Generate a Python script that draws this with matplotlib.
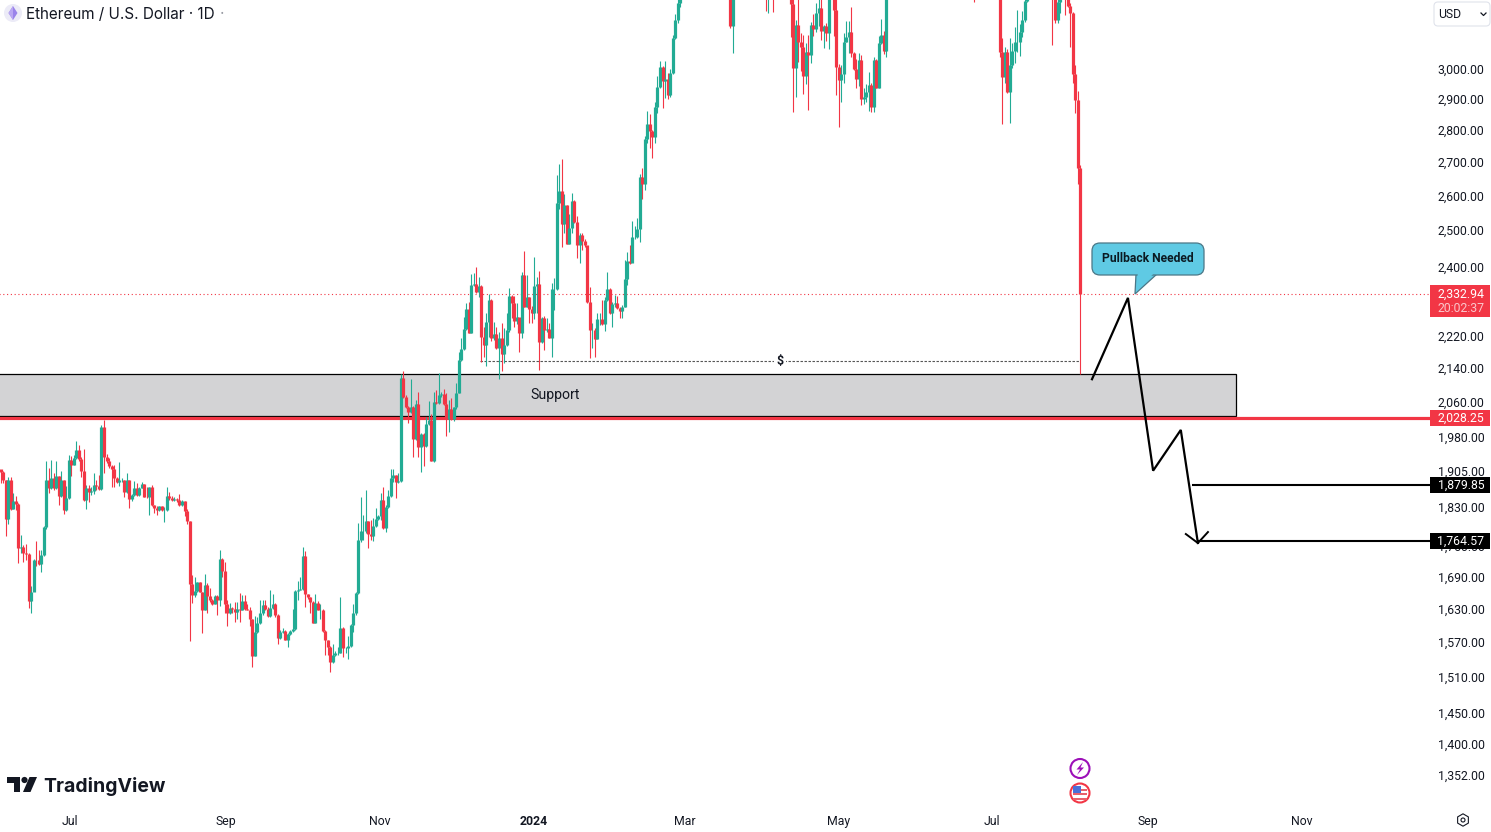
import matplotlib
matplotlib.use("Agg")
import numpy as np
import matplotlib.pyplot as plt
from matplotlib.patches import Rectangle, Polygon, Circle, FancyBboxPatch
from matplotlib.transforms import ScaledTranslation

W, H = 1491, 832
GREEN = "#22ab94"
RED = "#f23645"
INK = "#131722"

# daily candles, ETHUSD (opens follow the previous close)
first_open = 1915
closes = [
    1908,1891,1810,1891,1831,1846,1841,1752,1754,1742,
    1739,1649,1666,1728,1727,1720,1738,1793,1891,1873,
    1895,1873,1900,1857,1891,1827,1852,1934,1923,1938,
    1956,1936,1910,1848,1873,1866,1868,1880,1878,1871,
    2008,1940,1931,1921,1914,1896,1886,1892,1892,1866,
    1891,1850,1860,1873,1860,1875,1883,1856,1855,1876,
    1838,1833,1827,1836,1827,1827,1857,1852,1848,1850,
    1848,1838,1846,1826,1806,1681,1660,1668,1685,1667,
    1633,1679,1658,1651,1644,1659,1651,1730,1706,1644,
    1628,1637,1634,1629,1634,1633,1649,1634,1633,1617,
    1550,1592,1608,1627,1642,1634,1622,1636,1644,1624,
    1582,1593,1594,1579,1589,1594,1598,1668,1670,1672,
    1736,1663,1656,1647,1609,1645,1633,1633,1594,1578,
    1566,1539,1552,1555,1556,1599,1564,1564,1567,1605,
    1627,1664,1767,1785,1785,1805,1780,1775,1795,1809,
    1815,1849,1791,1834,1857,1895,1901,1887,1889,2122,
    2077,2053,2042,2053,1980,2061,1963,1992,1965,2014,
    2023,1932,2065,2063,2082,2084,2061,2026,2048,2026,
    2053,2086,2165,2192,2243,2293,2232,2356,2359,2338,
    2354,2223,2203,2260,2317,2220,2230,2195,2220,2180,
    2203,2240,2328,2309,2263,2273,2232,2383,2299,2325,
    2293,2283,2354,2359,2210,2270,2240,2243,2220,2346,
    2346,2586,2621,2525,2580,2470,2513,2592,2530,2465,
    2493,2476,2465,2312,2240,2240,2218,2268,2268,2255,
    2317,2346,2283,2306,2309,2296,2288,2299,2373,2421,
    2415,2488,2488,2510,2663,2642,2780,2827,2805,2786,
    2882,2948,3016,2969,2975,2922,2996,3116,3180,3241,
    3385,3340,3435,3420,3490,3630,3555,3820,3870,3890,
    3920,3880,4070,3985,4005,3880,3735,3530,3640,3520,
    3159,3515,3490,3335,3330,3455,3590,3590,3500,3560,
    3510,3510,3650,3505,3280,3310,3330,3320,3350,3455,
    3690,3510,3540,3505,3238,3012,3163,3102,3084,2986,
    3067,3057,3163,3148,3205,3223,3141,3159,3134,3285,
    3320,3216,3016,2972,2992,3102,3120,3138,3064,3009,
    2975,3040,2908,2915,2932,2955,2882,3040,2945,3098,
    3127,3071,3660,3790,3735,3780,3725,3750,3825,3890,
    3840,3765,3745,3760,3815,3780,3765,3810,3865,3810,
    3680,3680,3705,3665,3500,3560,3470,3475,3565,3625,
    3510,3480,3560,3515,3520,3490,3420,3350,3395,3375,
    3445,3375,3380,3435,3440,3420,3295,3067,2982,3067,
    2932,3023,3071,3102,3102,3138,3180,3250,3480,3445,
    3390,3425,3505,3520,3535,3440,3480,3335,3275,3178,
    3245,3270,3318,3280,3232,3205,2992,2905,2690,2332.94,
]
highs = [
    1911,1910,1892,1897,1897,1863,1857,1842,1778,1757,
    1760,1742,1677,1729,1765,1747,1747,1795,1932,1916,
    1935,1906,1932,1900,1911,1891,1878,1945,1943,1945,
    1976,1967,1941,1959,1880,1880,1877,1905,1891,1902,
    2013,2023,1947,1938,1923,1923,1898,1930,1895,1892,
    1906,1891,1861,1889,1885,1876,1887,1883,1876,1877,
    1880,1838,1836,1837,1836,1834,1876,1866,1857,1856,
    1852,1861,1849,1846,1829,1806,1698,1695,1686,1686,
    1667,1700,1684,1673,1654,1660,1660,1747,1731,1723,
    1652,1645,1638,1648,1648,1665,1660,1660,1644,1639,
    1617,1622,1620,1652,1651,1651,1638,1670,1662,1645,
    1625,1596,1599,1596,1590,1596,1634,1670,1687,1695,
    1754,1745,1663,1657,1649,1662,1649,1644,1634,1596,
    1578,1568,1572,1558,1566,1656,1601,1566,1585,1607,
    1644,1667,1802,1856,1818,1869,1805,1807,1811,1832,
    1817,1864,1876,1838,1870,1914,1914,1901,1907,2131,
    2139,2082,2056,2119,2056,2070,2088,1994,1994,2030,
    2068,2037,2088,2093,2134,2088,2096,2086,2070,2075,
    2053,2110,2185,2220,2273,2309,2312,2386,2389,2405,
    2378,2356,2248,2283,2333,2320,2260,2248,2235,2258,
    2245,2283,2349,2330,2328,2309,2270,2391,2449,2383,
    2325,2301,2432,2378,2394,2273,2275,2270,2258,2362,
    2375,2669,2702,2718,2612,2580,2553,2615,2595,2547,
    2499,2499,2482,2463,2351,2258,2245,2283,2283,2317,
    2325,2391,2349,2312,2330,2328,2299,2304,2424,2446,
    2465,2533,2519,2542,2672,2690,2790,2869,2859,2808,
    2898,2986,3036,3020,3036,2996,3010,3127,3202,3290,
    3490,3520,3450,3450,3530,3640,3825,3900,3940,4000,
    3955,3960,4090,4090,4085,4020,3930,3785,3680,3650,
    3545,3530,3590,3540,3430,3460,3660,3675,3665,3615,
    3585,3565,3660,3650,3510,3370,3445,3345,3385,3480,
    3730,3730,3560,3615,3550,3290,3180,3280,3134,3127,
    3098,3127,3173,3202,3241,3290,3300,3163,3170,3300,
    3355,3330,3290,3026,3023,3134,3177,3177,3227,3067,
    3043,3064,3057,2945,2958,2999,2962,3050,3043,3123,
    3184,3141,3690,3830,3815,3950,3760,3780,3860,3970,
    3930,3880,3835,3840,3830,3835,3850,3830,3890,3880,
    3840,3715,3715,3720,3680,3660,3620,3530,3590,3645,
    3650,3520,3620,3625,3555,3530,3495,3425,3430,3410,
    3490,3475,3410,3445,3525,3460,3420,3300,3116,3084,
    3077,3116,3098,3155,3216,3166,3213,3290,3500,3515,
    3520,3490,3545,3540,3560,3565,3495,3490,3340,3280,
    3260,3290,3400,3340,3300,3241,3209,3023,2935,2699,
]
lows = [
    1884,1885,1776,1799,1828,1829,1828,1721,1742,1723,
    1728,1637,1628,1683,1715,1718,1705,1735,1790,1864,
    1871,1870,1871,1838,1856,1820,1825,1850,1900,1923,
    1936,1932,1898,1847,1831,1845,1859,1861,1870,1870,
    1870,1905,1927,1916,1877,1877,1884,1878,1887,1856,
    1864,1833,1847,1858,1858,1858,1873,1854,1852,1818,
    1836,1821,1818,1825,1825,1804,1825,1849,1846,1846,
    1845,1836,1836,1815,1799,1577,1646,1656,1667,1666,
    1591,1632,1627,1648,1642,1644,1624,1640,1695,1627,
    1603,1626,1627,1611,1617,1611,1633,1633,1632,1603,
    1531,1550,1590,1607,1624,1632,1620,1620,1635,1620,
    1571,1580,1591,1578,1566,1587,1593,1596,1651,1670,
    1670,1639,1654,1627,1608,1609,1632,1617,1593,1552,
    1552,1523,1537,1550,1552,1555,1549,1556,1544,1566,
    1593,1624,1663,1764,1767,1781,1752,1767,1765,1793,
    1807,1807,1789,1783,1832,1855,1887,1853,1885,1887,
    2075,2052,2017,2039,1941,1978,1941,1908,1921,1963,
    2012,1931,1930,2061,2061,2077,2059,1987,1996,2023,
    2021,2050,2086,2163,2190,2240,2232,2232,2354,2335,
    2325,2160,2172,2151,2223,2213,2215,2192,2119,2139,
    2158,2200,2235,2270,2248,2255,2185,2220,2299,2299,
    2258,2258,2268,2283,2141,2208,2190,2235,2220,2172,
    2291,2343,2568,2460,2499,2468,2470,2499,2527,2430,
    2415,2452,2460,2309,2170,2195,2172,2218,2253,2253,
    2238,2314,2281,2248,2299,2293,2270,2270,2299,2356,
    2413,2421,2482,2485,2474,2598,2624,2767,2751,2721,
    2767,2862,2945,2879,2912,2908,2915,2992,3113,3170,
    3225,3300,3330,3400,3400,3440,3400,3500,3780,3830,
    3865,3830,3720,3830,3935,3720,3580,3500,3410,3460,
    3152,3064,3415,3260,3260,3285,3420,3555,3460,3470,
    3465,3480,3500,3415,3212,3205,3270,3210,3300,3335,
    3440,3480,3400,3480,3120,2865,2915,3033,3003,2925,
    2958,2872,3030,3123,3138,3159,3109,3081,3105,3077,
    3265,3123,2922,2818,2898,2962,3102,3064,3050,3006,
    2945,2952,2888,2892,2898,2869,2865,2865,2945,2945,
    3095,3060,3050,3640,3660,3530,3620,3700,3730,3810,
    3775,3710,3700,3720,3740,3750,3745,3730,3780,3760,
    3650,3660,3660,3580,3440,3465,3365,3360,3465,3540,
    3365,3360,3465,3445,3415,3480,3405,3245,3300,3310,
    3365,3365,3370,3375,3425,3395,3285,3050,2827,2962,
    2928,2830,3012,3030,3067,3053,3120,3173,3245,3400,
    3380,3375,3375,3480,3490,3420,3330,3300,3091,3170,
    3170,3205,3260,3198,3225,3084,2962,2862,2642,2131,
]

price_ticks = [3000, 2900, 2800, 2700, 2600, 2500, 2400, 2220, 2140, 2060,
               1980, 1905, 1830, 1750, 1690, 1630, 1570, 1510, 1450, 1400, 1352]
month_labels = ["Jul", "Sep", "Nov", "2024", "Mar", "May", "Jul", "Sep", "Nov"]
month_pos = [27.5, 89.5, 150.7, 211.7, 271.8, 332.9, 394, 456, 517.1]

last_price = 2332.94
support_top = 2131
support_bottom = 2032
red_level = 2028.25
target_1 = 1879.85
target_2 = 1764.57
liquidity_level = 2163

path_idx = [433.7, 448, 458, 469, 475.8]
path_price = [2119, 2323, 1911, 2001, 1761]
head_idx = [471, 475.8, 479.8]
head_price = [1779, 1761, 1783]

plt.rcParams["font.family"] = ["Roboto", "DejaVu Sans"]

fig = plt.figure(figsize=(W / 100, H / 100), dpi=100, facecolor="white")
ax = fig.add_axes([0, 0, 1, 1])
ax.set_yscale("log")
ax.set_xlim(-0.338, 592.3)
ax.set_ylim(1270.5, 3252.4)
for s in ax.spines.values():
    s.set_visible(False)

idx = np.arange(len(closes))
closes_a = np.array(closes, dtype=float)
opens_a = np.r_[first_open, closes_a[:-1]]
colors = np.where(closes_a >= opens_a, GREEN, RED)

# support box and levels sit under the candles
ax.add_patch(Rectangle((-5, support_bottom), 495.9, support_top - support_bottom,
                       fc="#d3d3d5", ec="black", lw=0.9, zorder=1))
ax.hlines(red_level, -5, 568, color=RED, lw=2.3, zorder=1.5)
ax.hlines(last_price, -5, 568, color=RED, lw=0.8, linestyles=(0, (1, 2.4)), zorder=1.5)
ax.hlines(liquidity_level, 190.5, 429, color="#555555", lw=0.8, linestyles=(0, (2.2, 1.4)), zorder=1.5)
ax.text(309.7, 2161, "$", ha="center", va="center", fontsize=9, fontweight="bold",
        color=INK, zorder=3, bbox=dict(fc="white", ec="none", pad=2))

ax.vlines(idx, lows, highs, colors=colors, lw=0.8, zorder=2, capstyle="butt")
ax.vlines(idx, opens_a, closes_a, colors=colors, lw=2.3, zorder=2.1, capstyle="butt")

ax.text(220.3, 2082, "Support", ha="center", va="center", fontsize=10.2, color=INK, zorder=3)

# drawn forecast
ax.plot(path_idx, path_price, color="black", lw=1.6, zorder=4, solid_joinstyle="miter")
ax.plot(head_idx, head_price, color="black", lw=1.4, zorder=4)
ax.hlines(target_1, 473.4, 568, color="black", lw=1.5, zorder=4)
ax.hlines(target_2, 475.8, 568, color="black", lw=1.5, zorder=4)

# axes
ax.set_yticks(price_ticks)
ax.set_yticklabels([f"{p:,.2f}" for p in price_ticks])
ax.yaxis.set_minor_locator(matplotlib.ticker.NullLocator())
ax.yaxis.tick_right()
ax.tick_params(axis="y", length=0, pad=-38.3, labelsize=8.8, labelcolor=INK)
ax.set_xticks(month_pos)
ax.set_xticklabels(month_labels)
ax.tick_params(axis="x", length=0, pad=-12, labelsize=8.8, labelcolor=INK)
for t, name in zip(ax.get_xticklabels(), month_labels):
    if name == "2024":
        t.set_fontweight("bold")
# price labels sit a little above their levels
lift = ScaledTranslation(0, 2.7 / 100, fig.dpi_scale_trans)
for t in ax.get_yticklabels():
    t.set_transform(t.get_transform() + lift)

# everything that is chrome lives in a pixel overlay
ui = fig.add_axes([0, 0, 1, 1], zorder=5)
ui.set_xlim(0, W)
ui.set_ylim(H, 0)
ui.axis("off")
ui.patch.set_alpha(0)


def price_y(p):
    return H - ax.transData.transform((0, p))[1]


def tag(price, text, color, top=8, bottom=8):
    y = price_y(price)
    ui.add_patch(Rectangle((1430, y - top), 60, top + bottom, fc=color, ec="none"))
    ui.text(1461, y, text, ha="center", va="center", color="white", fontsize=8.8)


tag(red_level, "2,028.25", RED)
tag(target_1, "1,879.85", "black")
tag(target_2, "1,764.57", "black")
tag(last_price, "2,332.94", RED, top=9, bottom=23)
ui.text(1461, price_y(last_price) + 14.5, "20:02:37", ha="center", va="center",
        color="#fbc5ca", fontsize=8.8)

# callout
ui.add_patch(Polygon([(1136, 274), (1135, 294), (1157, 274)], closed=True, fc="#5fcae4", ec="#4b7787", lw=0.9))
ui.add_patch(FancyBboxPatch((1098, 249), 100, 20, boxstyle="round,pad=6,rounding_size=8",
                            fc="#5fcae4", ec="#4b7787", lw=0.9))
ui.add_patch(Polygon([(1138, 272), (1136, 292), (1155, 272)], closed=True, fc="#5fcae4", ec="none"))
ui.text(1148, 259, "Pullback Needed", ha="center", va="center", fontsize=8.7, fontweight="bold", color="#0b1a22")

# title and coin icon
ui.add_patch(Circle((13, 13), 9, fc="#ecebf7", ec="none"))
ui.add_patch(Polygon([(13, 6), (17.5, 13), (13, 20), (8.5, 13)], closed=True, fc="#9a83ea", ec="none"))
ui.add_patch(Polygon([(13, 6), (13, 20), (8.5, 13)], closed=True, fc="#b9a7f2", ec="none"))
ui.text(26, 14.5, "Ethereum / U.S. Dollar · 1D", family="Inter", fontsize=10.97, color=INK, va="center")
ui.text(219.5, 14.5, "·", family="Inter", fontsize=10.97, color="#9598a1", va="center")

# currency box
ui.add_patch(FancyBboxPatch((1437, 5), 50, 18, boxstyle="round,pad=3,rounding_size=4",
                            fc="white", ec="#e0e3eb", lw=0.8))
ui.text(1438, 14, "USD", ha="left", va="center", fontsize=8.8, color=INK)
ui.plot([1481, 1483.5, 1486], [13, 15.5, 13], color=INK, lw=0.9)

# logo
ui.add_patch(Polygon([(7, 777), (20, 777), (20, 792), (13.5, 792), (13.5, 783), (7, 783)], closed=True, fc=INK, ec="none"))
ui.add_patch(Circle((24.5, 780), 3.1, fc=INK, ec="none"))
ui.add_patch(Polygon([(29.5, 777), (37, 777), (30.5, 792), (23, 792)], closed=True, fc=INK, ec="none"))
ui.text(43.5, 786.5, "TradingView", family="Inter", fontweight="bold", fontsize=14, color=INK,
        ha="left", va="center")

# event icons
ui.add_patch(Circle((1080, 768.5), 9.5, fc="white", ec="#9c10b8", lw=1.5))
ui.add_patch(Polygon([(1083, 762), (1076.5, 769.5), (1080, 769.5), (1077, 775), (1084, 767.5), (1080.5, 767.5)],
                     closed=True, fc="#9c10b8", ec="none"))
ui.add_patch(Circle((1080, 793), 9.5, fc="white", ec=RED, lw=1.5))
for sy in (788.5, 793, 797.5):
    ui.add_patch(Rectangle((1073, sy), 14, 2.2, fc="#e8606b", ec="none"))
ui.add_patch(Rectangle((1073, 786), 7.5, 7, fc="#4a6fd8", ec="none"))

# settings gear
ang = np.deg2rad(np.arange(30, 390, 60))
ui.add_patch(Polygon(np.c_[1463 + 6.2 * np.cos(ang), 820 + 6.2 * np.sin(ang)], closed=True, fc="white", ec=INK, lw=0.8))
ui.add_patch(Circle((1463, 820), 2, fc="white", ec=INK, lw=0.8))

fig.savefig("out.png", dpi=100, facecolor="white")
